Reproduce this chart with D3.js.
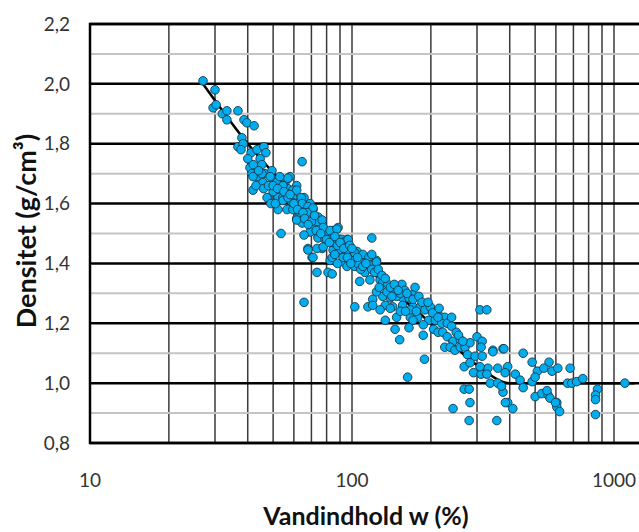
<!DOCTYPE html>
<html lang="da">
<head>
<meta charset="UTF-8">
<title>Densitet mod vandindhold</title>
<style>
  body { margin: 0; background: #fff; }
  svg { display: block; }
  .tick-label { font: 19px Lato, "Open Sans", sans-serif; fill: #333; }
  .axis-title { font: bold 25px Lato, "Open Sans", sans-serif; fill: #111; }
  .y-title { font-size: 27px; }
  .grid-v { stroke: #3a3a3a; stroke-width: 1.5px; }
  .grid-major { stroke: #000; stroke-width: 2.5px; }
  .grid-minor { stroke: #c4c4c4; stroke-width: 2px; }
  .frame { fill: none; stroke: #000; stroke-width: 2.5px; }
  .trend { fill: none; stroke: #000; stroke-width: 2.5px; }
  .dot { fill: #00aeef; stroke: #16384a; stroke-width: 0.9px; }
</style>
</head>
<body>
<script src="https://d3js.org/d3.v7.min.js"></script>
<script>
// tick values and grid
const xTickLabels = [10, 100, 1000];
const yTickLabels = [0.8, 1.0, 1.2, 1.4, 1.6, 1.8, 2.0, 2.2];
const yMinorLines = [0.9, 1.1, 1.3, 1.5, 1.7, 1.9, 2.1];
const xGridLines = [10, 20, 30, 40, 50, 60, 70, 80, 90,
                    100, 200, 300, 400, 500, 600, 700, 800, 900, 1000];

// trend line: [w %, density]
const trend = [[27, 2.0], [40, 1.80], [63, 1.61], [100, 1.43], [200, 1.20],
               [300, 1.06], [400, 1.0], [1200, 1.0]];

// measured samples: [water content w %, density g/cm3]
const samples = [
  [27,2.01],[30,1.98],[29.5,1.92],[30.3,1.93],[32,1.90],[33.3,1.91],[33.3,1.88],[36.7,1.91],
  [38.7,1.88],[39.7,1.87],[42.3,1.86],[38,1.82],[36.7,1.79],[38.4,1.80],[37.7,1.78],[41.2,1.77],
  [43.4,1.78],[46.1,1.79],[46.9,1.77],[44.6,1.75],[64.5,1.74],[40.8,1.72],[45.3,1.73],[41.5,1.70],
  [43.4,1.69],[46.5,1.70],[49.5,1.71],[50.8,1.68],[41.9,1.645],[45.7,1.67],[47.8,1.62],[52.2,1.62],
  [56.5,1.68],[58,1.69],[61.5,1.66],[56.9,1.65],[54.5,1.62],[59.5,1.62],[65.6,1.62],
  [41.9,1.69],[45.3,1.70],[48.7,1.69],[51.6,1.67],[56.9,1.685],[47.4,1.62],[50,1.64],[54.5,1.66],
  [59.5,1.645],[54.5,1.61],[59,1.605],[64,1.62],[52.2,1.58],[56.5,1.58],[63.3,1.59],[69.2,1.60],
  [71,1.58],[61.5,1.55],[67.5,1.56],[74.2,1.555],[76.9,1.535],[71,1.52],[64.5,1.535],[53.6,1.50],
  [79.9,1.505],[84.7,1.51],[88.5,1.52],[74.2,1.49],[84,1.485],[91.6,1.48],[95.7,1.48],[67.9,1.45],
  [76.9,1.45],[84.7,1.445],[95.7,1.44],[70.4,1.42],[104.5,1.44],[82.5,1.41],[92.4,1.405],[101,1.42],
  [107,1.405],[115,1.42],[119,1.485],[122,1.41],[73.5,1.37],[81,1.37],[84,1.365],[95.7,1.39],
  [102.5,1.39],[112,1.37],[107,1.34],[117,1.345],[65.6,1.27],[102.5,1.255],[115,1.255],
  [61.5,1.645],[64.5,1.60],[67.9,1.59],[71,1.585],[59.5,1.58],[63.3,1.57],[67.3,1.57],[61.5,1.545],
  [73.5,1.54],[76.9,1.545],[77.6,1.52],[82.5,1.51],[87.6,1.515],[69.2,1.505],[65.6,1.495],[74.2,1.485],
  [78.9,1.48],[84.7,1.47],[91.6,1.47],[96.6,1.48],[67.9,1.445],[73.5,1.45],[77.6,1.455],[90,1.445],
  [94.8,1.44],[102.5,1.435],[71,1.42],[84,1.42],[92.4,1.42],[110,1.43],[116,1.42],[124,1.41],
  [105,1.40],[117,1.395],
  [119,1.43],[124,1.405],[119,1.38],[122,1.37],[128,1.345],[131,1.335],[137,1.33],[143,1.31],
  [155,1.33],[159,1.31],[174,1.32],[170,1.295],[156,1.285],[148,1.29],[140,1.285],[131,1.29],
  [124,1.305],[120,1.28],[134,1.26],[143,1.255],[156,1.26],[171,1.255],[182,1.255],[190,1.245],
  [203,1.24],[213,1.23],[226,1.22],[134,1.21],[148,1.22],[167,1.22],[178,1.22],[196,1.21],
  [208,1.21],[220,1.20],[308,1.245],[327,1.245],
  [136,1.305],[142,1.29],[153,1.30],[165,1.285],[171,1.28],[199,1.255],[203,1.235],[213,1.22],
  [120,1.26],[128,1.245],[140,1.25],[153,1.24],[167,1.245],[171,1.21],[187,1.195],[205,1.18],
  [146,1.18],[152,1.145],[165,1.185],[187,1.16],[213,1.17],[222,1.17],[231,1.20],[231,1.155],
  [243,1.14],[259,1.145],[226,1.12],[237,1.12],[247,1.11],[259,1.12],[270,1.12],[282,1.135],
  [276,1.095],[268,1.055],[282,1.068],[295,1.09],[300,1.155],[314,1.14],[311,1.12],[314,1.09],
  [345,1.11],[377,1.115],[330,1.05],[360,1.05],[393,1.055],[291,1.035],[311,1.03],[337,1.00],
  [360,1.00],[268,0.98],[280,0.98],[282,0.935],[243,0.915],[280,0.875],[357,0.875],[377,0.97],
  [393,0.935],[189,1.08],[163,1.02],[411,0.915],
  [345,1.105],[380,1.115],[450,1.10],[487,1.07],[565,1.07],[510,1.04],[540,1.05],[580,1.04],
  [610,1.05],[680,1.05],[308,1.055],[327,1.03],[384,1.035],[420,1.03],[438,1.01],[450,0.985],
  [487,1.005],[500,1.02],[372,0.99],[385,0.935],[500,0.955],[530,0.965],[560,0.96],[555,0.975],
  [605,0.935],[605,0.92],[620,0.905],[665,1.00],[690,1.00],[720,1.005],[760,1.015],[865,0.98],
  [850,0.96],[850,0.945],[850,0.895],[1100,1.00],[570,0.95],[598,0.935],
  // densely packed middle of the cloud
  [40,1.75],[42,1.73],[44,1.71],[43,1.66],[46,1.65],[48,1.66],[50,1.66],[52,1.65],
  [53,1.69],[55,1.64],[57,1.62],[49,1.60],[51,1.60],[58,1.63],[60,1.60],[62,1.58],
  [65,1.57],[66,1.55],[70,1.54],[72,1.56],[68,1.53],[73,1.51],[76,1.50],[80,1.48],
  [82,1.47],[86,1.49],[88,1.46],[90,1.47],[93,1.45],[98,1.46],[100,1.45],[86,1.43],
  [88,1.40],[96,1.42],[99,1.40],[105,1.42],[108,1.38],[110,1.39],[113,1.40],[126,1.38],
  [130,1.36],[134,1.35],[127,1.32],[140,1.32],[145,1.33],[150,1.31],[162,1.30],[180,1.29],
  [185,1.27],[195,1.27],[160,1.24],[176,1.24],[215,1.25],[240,1.19],[250,1.17],[255,1.16],
  [265,1.14],[240,1.22]
];

const width = 639, height = 532;
const plotLeft = 90, plotTop = 24, plotBottom = 443, plotRight = 660; // plot runs off the right edge

const x = d3.scaleLog().domain([10, 1000]).range([plotLeft, 614]);
const y = d3.scaleLinear().domain([0.8, 2.2]).range([plotBottom, plotTop]);
const fmt = v => d3.format(".1f")(v).replace(".", ",");

const svg = d3.select("body").append("svg")
  .attr("width", width)
  .attr("height", height);

const plot = svg.append("g");

// vertical grid
plot.selectAll("line.grid-v")
  .data(xGridLines)
  .enter().append("line")
  .attr("class", "grid-v")
  .attr("x1", d => x(d)).attr("x2", d => x(d))
  .attr("y1", plotTop).attr("y2", plotBottom);

// horizontal grid, light ones first
plot.selectAll("line.grid-minor")
  .data(yMinorLines)
  .enter().append("line")
  .attr("class", "grid-minor")
  .attr("x1", plotLeft).attr("x2", plotRight)
  .attr("y1", d => y(d)).attr("y2", d => y(d));

plot.selectAll("line.grid-major")
  .data(yTickLabels)
  .enter().append("line")
  .attr("class", "grid-major")
  .attr("x1", plotLeft).attr("x2", plotRight)
  .attr("y1", d => y(d)).attr("y2", d => y(d));

plot.append("rect")
  .attr("class", "frame")
  .attr("x", plotLeft).attr("y", plotTop)
  .attr("width", plotRight - plotLeft).attr("height", plotBottom - plotTop);

// trend line
const line = d3.line()
  .x(d => x(d[0]))
  .y(d => y(d[1]))
  .curve(d3.curveMonotoneX);

plot.append("path")
  .datum(trend)
  .attr("class", "trend")
  .attr("d", line);

// points
plot.selectAll("circle.dot")
  .data(samples)
  .enter().append("circle")
  .attr("class", "dot")
  .attr("cx", d => x(d[0]))
  .attr("cy", d => y(d[1]))
  .attr("r", 4.3);

// tick labels
svg.selectAll("text.y-tick")
  .data(yTickLabels)
  .enter().append("text")
  .attr("class", "tick-label")
  .attr("x", 70)
  .attr("y", d => y(d))
  .attr("dy", "0.35em")
  .attr("text-anchor", "end")
  .text(fmt);

svg.selectAll("text.x-tick")
  .data(xTickLabels)
  .enter().append("text")
  .attr("class", "tick-label")
  .attr("x", d => x(d))
  .attr("y", 487)
  .attr("text-anchor", "middle")
  .text(d => d);

// axis titles
svg.append("text")
  .attr("class", "axis-title")
  .attr("x", 366)
  .attr("y", 525)
  .attr("text-anchor", "middle")
  .text("Vandindhold w (%)");

svg.append("text")
  .attr("class", "axis-title y-title")
  .attr("transform", "translate(25, 231) rotate(-90)")
  .attr("text-anchor", "middle")
  .attr("dominant-baseline", "central")
  .text("Densitet (g/cm³)");
</script>
</body>
</html>
